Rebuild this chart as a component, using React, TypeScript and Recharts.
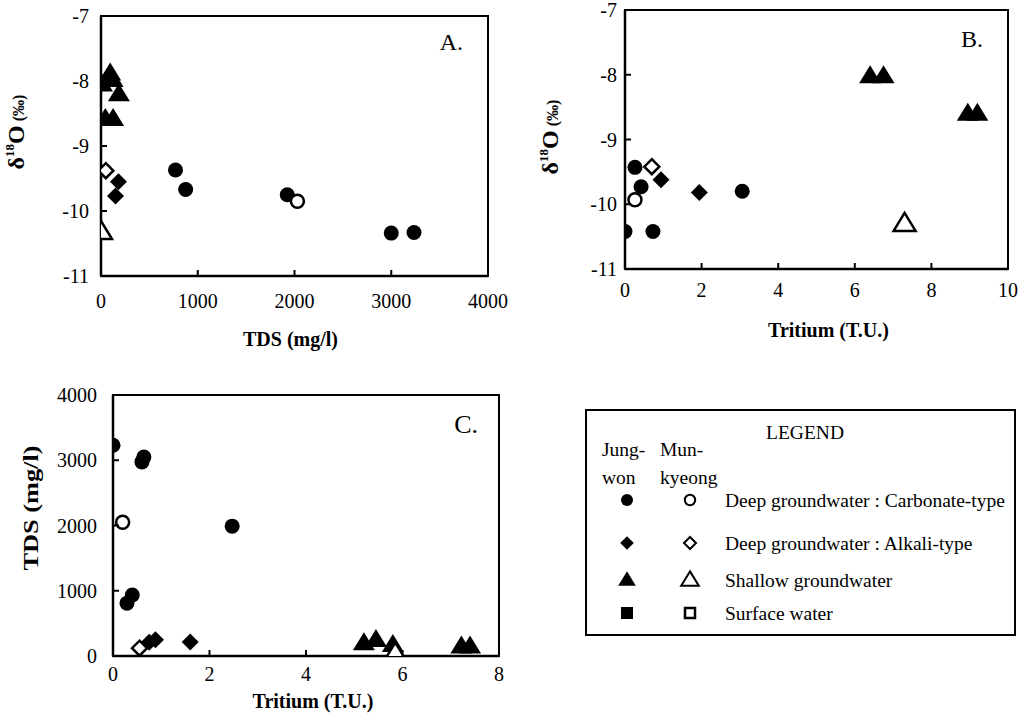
import React from "react";
import { ScatterChart, Scatter, XAxis, YAxis, ReferenceArea, Label } from "recharts";

const FONT = "'Liberation Serif', 'Times New Roman', serif";

// A: TDS (mg/l) vs d18O
const aJungCarb = [[770, -9.37], [875, -9.67], [1925, -9.75], [3000, -10.34], [3235, -10.33]];
const aMunCarb = [[2030, -9.85]];
const aJungAlk = [[180, -9.55], [150, -9.77]];
const aMunAlk = [[50, -9.38]];
const aJungShallow = [[10, -8.05], [95, -7.88], [120, -7.98], [185, -8.2], [45, -8.58], [125, -8.58]];
const aMunShallow = [[0, -10.32]];

// B: Tritium vs d18O
const bJungCarb = [[0.26, -9.43], [0.42, -9.73], [0, -10.42], [0.73, -10.42], [3.06, -9.8]];
const bMunCarb = [[0.26, -9.93]];
const bJungAlk = [[0.94, -9.62], [1.94, -9.82]];
const bMunAlk = [[0.7, -9.42]];
const bJungShallow = [[6.4, -8.02], [6.75, -8.02], [8.95, -8.6], [9.2, -8.6]];
const bMunShallow = [[7.3, -10.3]];

// C: Tritium vs TDS
const cJungCarb = [[0, 3230], [0.6, 2975], [0.64, 3050], [2.47, 1990], [0.29, 810], [0.4, 935]];
const cMunCarb = [[0.2, 2050]];
const cJungAlk = [[0.75, 210], [0.88, 250], [1.6, 215]];
const cMunAlk = [[0.55, 120]];
const cJungShallow = [[5.2, 200], [5.45, 250], [5.8, 170], [7.22, 150], [7.4, 150]];
const cMunShallow = [[5.85, 40]];

const d18Ticks = [-11, -10, -9, -8, -7];
const tdsTicks = [0, 1000, 2000, 3000, 4000];
const tritiumTicksB = [0, 2, 4, 6, 8, 10];
const tritiumTicksC = [0, 2, 4, 6, 8];

const toPts = (arr: number[][]) => arr.map(([x, y]) => ({ x, y }));

// marker shapes
const circle = (filled: boolean) => (p: any) =>
  <circle cx={p.cx} cy={p.cy} r={filled ? 7.5 : 6.5} fill={filled ? "#000" : "#fff"} stroke="#000" strokeWidth={filled ? 0 : 2.5} />;
const diamond = (filled: boolean) => (p: any) => {
  const s = filled ? 8.5 : 7.5;
  return <polygon points={`${p.cx},${p.cy - s} ${p.cx + s},${p.cy} ${p.cx},${p.cy + s} ${p.cx - s},${p.cy}`}
    fill={filled ? "#000" : "#fff"} stroke="#000" strokeWidth={filled ? 0 : 2.5} />;
};
const triangle = (filled: boolean) => (p: any) => {
  const w = 11, h = 18;
  return <polygon points={`${p.cx},${p.cy - h * 0.6} ${p.cx + w},${p.cy + h * 0.4} ${p.cx - w},${p.cy + h * 0.4}`}
    fill={filled ? "#000" : "#fff"} stroke="#000" strokeWidth={filled ? 0 : 2.5} strokeLinejoin="miter" />;
};

// inward tick marks drawn with the tick label (tickSize is 0, so axis = label pos - margin)
const bottomTick = (margin: number, size: number) => (p: any) => {
  const axisY = p.y - margin;
  return (
    <g>
      <line x1={p.x} x2={p.x} y1={axisY} y2={axisY - 6} stroke="#000" strokeWidth={2} />
      <text x={p.x} y={p.y} dy="0.71em" textAnchor="middle" fontFamily={FONT} fontSize={size} fill="#000">{p.payload.value}</text>
    </g>
  );
};
const leftTick = (margin: number, size: number) => (p: any) => {
  const axisX = p.x + margin;
  return (
    <g>
      <line x1={axisX} x2={axisX + 6} y1={p.y} y2={p.y} stroke="#000" strokeWidth={2} />
      <text x={p.x} y={p.y} dy="0.36em" textAnchor="end" fontFamily={FONT} fontSize={size} fill="#000">{p.payload.value}</text>
    </g>
  );
};

function deltaTitle(dx: number, dy: number) {
  return (props: any) => {
    const vb = props.viewBox || { x: 0, y: 0, width: 0, height: 0 };
    const cx = vb.x + dx, cy = vb.y + dy;
    return (
      <text x={cx} y={cy} transform={`rotate(-90 ${cx} ${cy})`} textAnchor="middle" fontFamily={FONT} fontWeight="bold" fill="#000">
        <tspan fontSize={24}>δ</tspan>
        <tspan fontSize={13} dy={-10}>18</tspan>
        <tspan fontSize={24} dy={10}>O</tspan>
        <tspan fontSize={16}> (‰)</tspan>
      </text>
    );
  };
}

function plainTitle(text: string, dx: number, dy: number, size: number, rotate = false, len?: number) {
  return (props: any) => {
    const vb = props.viewBox || { x: 0, y: 0, width: 0, height: 0 };
    const cx = rotate ? vb.x + dx : vb.x + vb.width / 2 + dx;
    const cy = vb.y + dy;
    return (
      <text x={cx} y={cy} transform={rotate ? `rotate(-90 ${cx} ${cy})` : undefined} textAnchor="middle"
        fontFamily={FONT} fontWeight="bold" fontSize={size} fill="#000"
        {...(len ? { textLength: len, lengthAdjust: "spacingAndGlyphs" } : {})}>
        {text}
      </text>
    );
  };
}

function tagLabel(text: string, dxRight: number, dy: number, size: number) {
  return (props: any) => {
    const vb = props.viewBox || { x: 0, y: 0, width: 0, height: 0 };
    return (
      <text x={vb.x + vb.width - dxRight} y={vb.y + dy} textAnchor="end" fontFamily={FONT} fontSize={size} fill="#000">{text}</text>
    );
  };
}

type Series = { data: number[][]; shape: any };

function Panel(props: {
  left: number; top: number; width: number; height: number;
  margin: any; yWidth: number; xHeight: number;
  xDomain: number[]; xTicks: number[]; yDomain: number[]; yTicks: number[];
  fontSize: number; xTickMargin: number; yTickMargin: number;
  series: Series[]; tag: any; xTitle: any; yTitle: any;
}) {
  const p = props;
  return (
    <div style={{ position: "absolute", left: p.left, top: p.top }}>
      <ScatterChart width={p.width} height={p.height} margin={p.margin}>
        <XAxis type="number" dataKey="x" domain={p.xDomain} ticks={p.xTicks} height={p.xHeight}
          axisLine={{ stroke: "#000", strokeWidth: 2.5 }} tickLine={false}
          tickSize={0} tickMargin={p.xTickMargin} tick={bottomTick(p.xTickMargin, p.fontSize)} interval={0} allowDataOverflow>
          <Label content={p.xTitle} />
        </XAxis>
        <YAxis type="number" dataKey="y" domain={p.yDomain} ticks={p.yTicks} width={p.yWidth}
          axisLine={{ stroke: "#000", strokeWidth: 2.5 }} tickLine={false}
          tickSize={0} tickMargin={p.yTickMargin} tick={leftTick(p.yTickMargin, p.fontSize)} interval={0} allowDataOverflow>
          <Label content={p.yTitle} />
        </YAxis>
        <ReferenceArea x1={p.xDomain[0]} x2={p.xDomain[1]} y1={p.yDomain[0]} y2={p.yDomain[1]}
          fill="none" fillOpacity={0} stroke="#000" strokeWidth={2}>
          <Label content={p.tag} />
        </ReferenceArea>
        {p.series.map((s, i) => (
          <Scatter key={i} data={toPts(s.data)} shape={s.shape} isAnimationActive={false} />
        ))}
      </ScatterChart>
    </div>
  );
}

function LegendBox() {
  const rows = [
    { y: 91, label: "Deep groundwater : Carbonate-type", f: circle(true), o: circle(false) },
    { y: 134, label: "Deep groundwater : Alkali-type", f: diamond(true), o: diamond(false) },
    { y: 171, label: "Shallow groundwater", f: triangle(true), o: triangle(false) },
  ];
  const txt = { fontFamily: FONT, fontSize: 19.5, fill: "#000" };
  return (
    <svg style={{ position: "absolute", left: 585, top: 409 }} width={432} height={228}>
      <rect x={1} y={1} width={429} height={225} fill="#fff" stroke="#000" strokeWidth={2} />
      <text x={220} y={30} textAnchor="middle" {...txt}>LEGEND</text>
      <text x={17} y={47} {...txt}>Jung-</text>
      <text x={17} y={75} {...txt}>won</text>
      <text x={75} y={47} {...txt}>Mun-</text>
      <text x={75} y={75} {...txt}>kyeong</text>
      {rows.map((r, i) => (
        <g key={i}>
          <g transform={`translate(42 ${r.y}) scale(0.8) translate(-42 ${-r.y})`}>{r.f({ cx: 42, cy: r.y })}</g>
          <g transform={`translate(105 ${r.y}) scale(0.8) translate(-105 ${-r.y})`}>{r.o({ cx: 105, cy: r.y })}</g>
          <text x={140} y={r.y + 6.5} {...txt}>{r.label}</text>
        </g>
      ))}
      <rect x={36} y={198} width={12} height={12} fill="#000" />
      <rect x={100} y={199} width={10} height={10} fill="#fff" stroke="#000" strokeWidth={2.5} />
      <text x={140} y={210.5} {...txt}>Surface water</text>
    </svg>
  );
}

export default function App() {
  return (
    <div style={{ position: "absolute", left: 0, top: 0, width: 1022, height: 713, background: "#fff", fontFamily: FONT, overflow: "hidden" }}>
      <Panel left={0} top={0} width={520} height={360}
        margin={{ top: 16, right: 32, bottom: 25, left: 0 }} yWidth={101} xHeight={59}
        xDomain={[0, 4000]} xTicks={tdsTicks} yDomain={[-11, -7]} yTicks={d18Ticks}
        fontSize={20} xTickMargin={18} yTickMargin={12}
        series={[
          { data: aJungShallow, shape: triangle(true) },
          { data: aJungAlk, shape: diamond(true) },
          { data: aJungCarb, shape: circle(true) },
          { data: aMunShallow, shape: triangle(false) },
          { data: aMunAlk, shape: diamond(false) },
          { data: aMunCarb, shape: circle(false) },
        ]}
        tag={tagLabel("A.", 25, 34, 24)}
        xTitle={plainTitle("TDS (mg/l)", -4, 70, 20)}
        yTitle={deltaTitle(24, 116)} />
      <Panel left={520} top={0} width={502} height={360}
        margin={{ top: 10, right: 14, bottom: 31, left: 0 }} yWidth={105} xHeight={60}
        xDomain={[0, 10]} xTicks={tritiumTicksB} yDomain={[-11, -7]} yTicks={d18Ticks}
        fontSize={20} xTickMargin={14} yTickMargin={8}
        series={[
          { data: bJungShallow, shape: triangle(true) },
          { data: bJungAlk, shape: diamond(true) },
          { data: bJungCarb, shape: circle(true) },
          { data: bMunShallow, shape: triangle(false) },
          { data: bMunAlk, shape: diamond(false) },
          { data: bMunCarb, shape: circle(false) },
        ]}
        tag={tagLabel("B.", 25, 37, 24)}
        xTitle={plainTitle("Tritium (T.U.)", 12, 68, 20)}
        yTitle={deltaTitle(38, 127)} />
      <Panel left={0} top={380} width={520} height={333}
        margin={{ top: 15, right: 21, bottom: 17, left: 0 }} yWidth={113} xHeight={40}
        xDomain={[0, 8]} xTicks={tritiumTicksC} yDomain={[0, 4000]} yTicks={tdsTicks}
        fontSize={20} xTickMargin={11} yTickMargin={16}
        series={[
          { data: cJungShallow, shape: triangle(true) },
          { data: cJungAlk, shape: diamond(true) },
          { data: cJungCarb, shape: circle(true) },
          { data: cMunShallow, shape: triangle(false) },
          { data: cMunAlk, shape: diamond(false) },
          { data: cMunCarb, shape: circle(false) },
        ]}
        tag={tagLabel("C.", 21, 38, 26)}
        xTitle={plainTitle("Tritium (T.U.)", 7, 52, 20)}
        yTitle={plainTitle("TDS (mg/l)", 38, 113, 22, true, 125)} />
      <LegendBox />
    </div>
  );
}
